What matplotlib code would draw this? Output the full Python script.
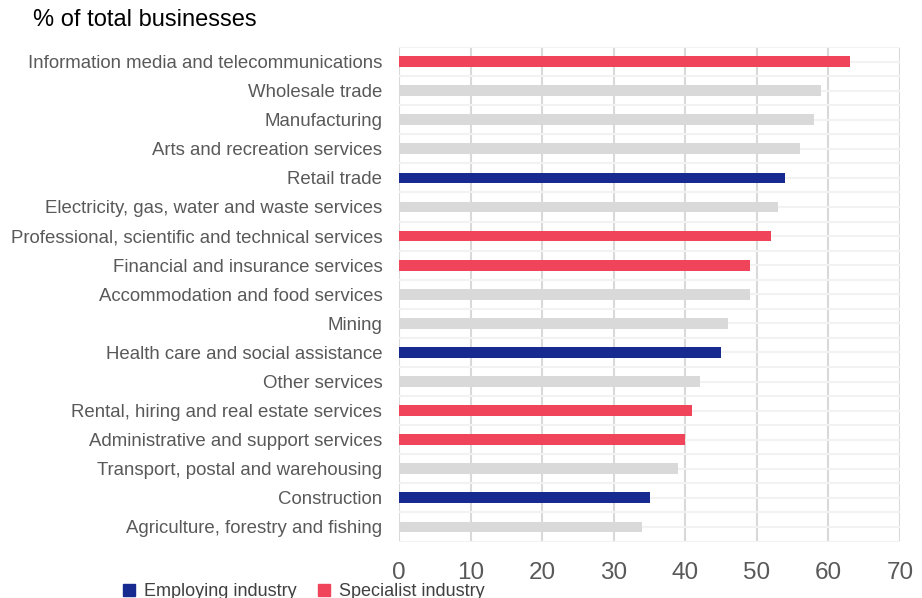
import matplotlib
matplotlib.use("Agg")
import matplotlib.pyplot as plt
import numpy as np
from matplotlib.patches import Patch

plt.rcParams['font.family'] = ['Liberation Sans', 'DejaVu Sans']

categories = [
    "Information media and telecommunications",
    "Wholesale trade",
    "Manufacturing",
    "Arts and recreation services",
    "Retail trade",
    "Electricity, gas, water and waste services",
    "Professional, scientific and technical services",
    "Financial and insurance services",
    "Accommodation and food services",
    "Mining",
    "Health care and social assistance",
    "Other services",
    "Rental, hiring and real estate services",
    "Administrative and support services",
    "Transport, postal and warehousing",
    "Construction",
    "Agriculture, forestry and fishing",
]
values = [63, 59, 58, 56, 54, 53, 52, 49, 49, 46, 45, 42, 41, 40, 39, 35, 34]
groups = ["S", "O", "O", "O", "E", "O", "S", "S", "O", "O", "E", "O", "S", "S", "O", "E", "O"]
legend_labels = ["Employing industry", "Specialist industry"]

colors = {"E": "#172a8f", "S": "#ef4459", "O": "#d9d9d9"}

fig = plt.figure(figsize=(9.22, 5.98), dpi=100)
ax = fig.add_axes([399/922, 1 - 541.5/598, 501/922, 494.5/598])

y = np.arange(len(categories))
ax.barh(y, values, height=0.37, color=[colors[g] for g in groups], zorder=3)

ax.set_xlim(0, 70)
ax.set_ylim(len(categories) - 0.5, -0.5)
ax.set_xticks(np.arange(0, 71, 10))
ax.set_yticks(y)
ax.set_yticklabels(categories, fontsize=13.4, color="#595959")
ax.set_yticks(np.arange(-0.5, len(categories), 1), minor=True)
ax.tick_params(axis='x', labelsize=17.5, colors="#595959", length=0, pad=15)
ax.tick_params(axis='y', which='both', length=0, pad=12)

ax.grid(axis='x', color="#d9d9d9", linewidth=1.5, zorder=1)
ax.grid(axis='y', which='both', color="#f2f2f2", linewidth=1.5, zorder=1)
for s in ax.spines.values():
    s.set_visible(False)
ax.set_axisbelow(True)

fig.text(33/922, 1 - 20/598, "% of total businesses", fontsize=17, color="#000000", va='center', ha='left')

handles = [Patch(color=colors["E"]), Patch(color=colors["S"])]
fig.legend(handles, legend_labels, loc='center left', bbox_to_anchor=(114/922, 1 - 592/598),
           ncol=2, frameon=False, fontsize=13.0, handlelength=0.65, handleheight=0.65,
           handletextpad=0.5, columnspacing=1.2, labelcolor="#404040", borderpad=0)

fig.savefig("out.png", dpi=100)
